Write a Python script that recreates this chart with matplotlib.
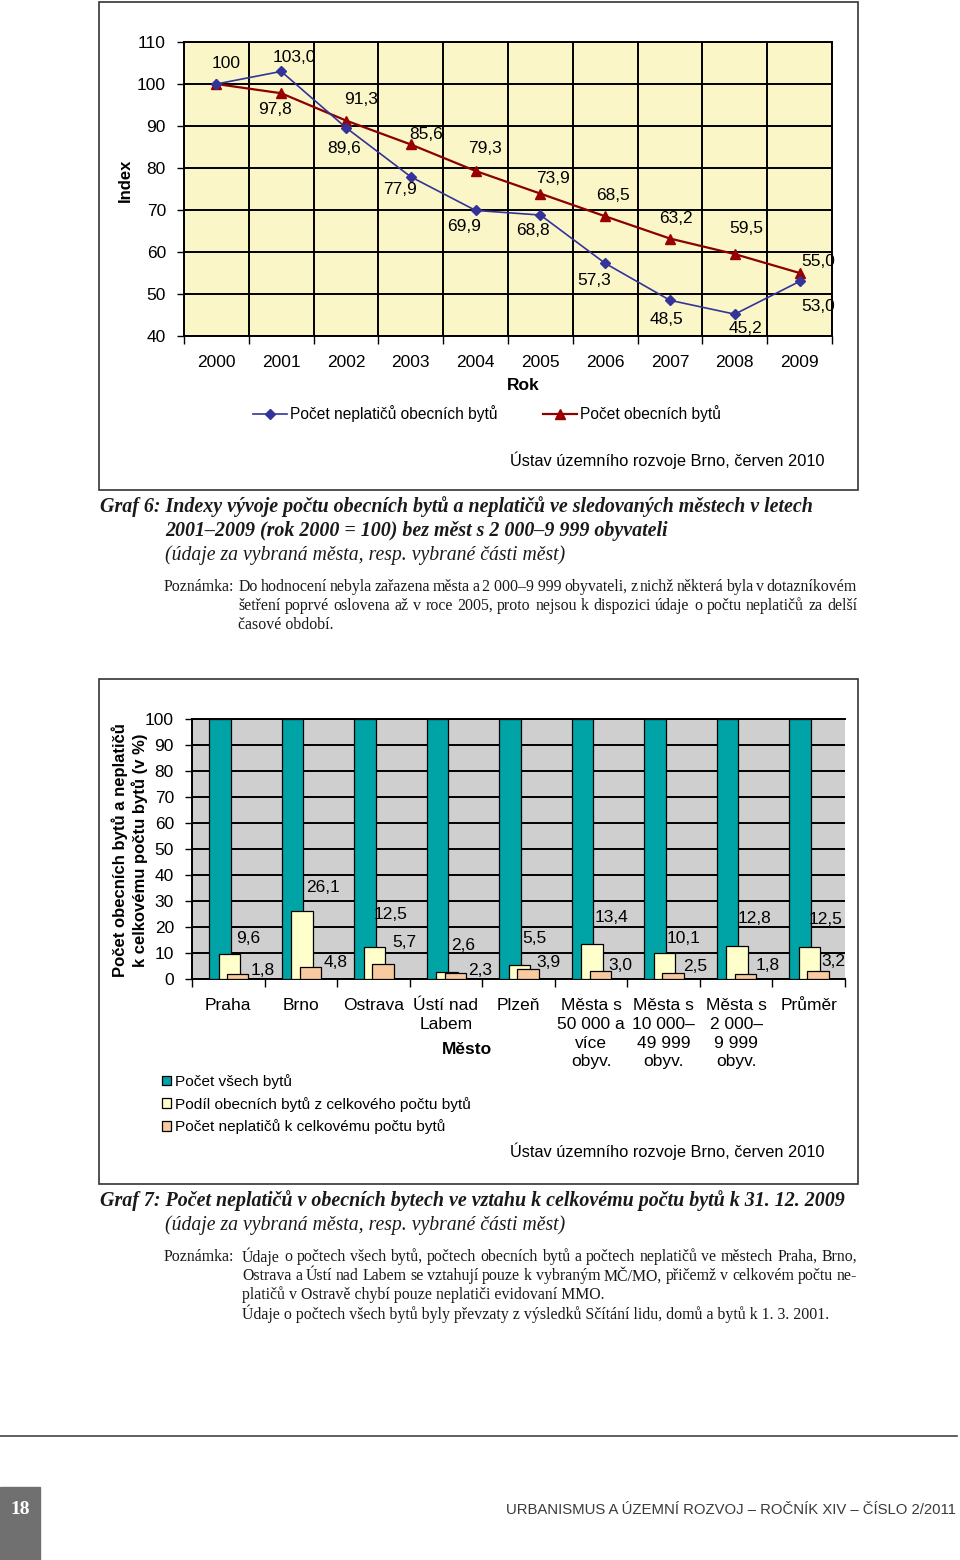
import matplotlib
matplotlib.use('Agg')
import matplotlib.pyplot as plt
from matplotlib.patches import Rectangle
from matplotlib.lines import Line2D
import numpy as np

W, H = 960, 1560

# ---------------- data ----------------
years = ['2000', '2001', '2002', '2003', '2004', '2005', '2006', '2007', '2008', '2009']
neplatici_index = [100, 103.0, 89.6, 77.9, 69.9, 68.8, 57.3, 48.5, 45.2, 53.0]
obecni_byty_index = [100, 97.8, 91.3, 85.6, 79.3, 73.9, 68.5, 63.2, 59.5, 55.0]

mesta = ['Praha', 'Brno', 'Ostrava', 'Ústí nad\nLabem', 'Plzeň',
         'Města s\n50 000 a\nvíce\nobyv.', 'Města s\n10 000–\n49 999\nobyv.',
         'Města s\n2 000–\n9 999\nobyv.', 'Průměr']
vsechny_byty = [100, 100, 100, 100, 100, 100, 100, 100, 100]
podil_obecnich = [9.6, 26.1, 12.5, 2.6, 5.5, 13.4, 10.1, 12.8, 12.5]
podil_neplaticu = [1.8, 4.8, 5.7, 2.3, 3.9, 3.0, 2.5, 1.8, 3.2]

# ---------------- fonts ----------------
SANS = 'Liberation Sans'
SERIF = 'Liberation Serif'
plt.rcParams['font.family'] = [SANS, 'DejaVu Sans']

fig = plt.figure(figsize=(W / 100, H / 100), dpi=100)
fig.patch.set_facecolor('white')


def fx(x):
    return x / W


def fy(y):
    return 1 - y / H


def ftext(x, y, s, **kw):
    return fig.text(fx(x), fy(y), s, **kw)


def fmt(v):
    return f'{v:.1f}'.replace('.', ',')


# ---------------- boxes ----------------
for (x0, y0, x1, y1) in [(99, 2, 858, 490), (99, 679, 858, 1184)]:
    fig.add_artist(Rectangle((fx(x0), fy(y1)), fx(x1) - fx(x0), (y1 - y0) / H,
                             fill=False, ec='#333333', lw=1.2, transform=fig.transFigure))

# ---------------- chart 1 ----------------
ax1 = fig.add_axes([fx(184), fy(336), (832 - 184) / W, (336 - 42) / H])
ax1.set_facecolor('#FBF6C8')
ax1.set_xlim(-0.5, 9.5)
ax1.set_ylim(40, 110)
ax1.set_yticks(range(40, 111, 10))
ax1.set_xticks(range(len(years)))
ax1.set_xticklabels(years)
ax1.set_xticks(np.arange(-0.5, len(years), 1), minor=True)
ax1.tick_params(axis='x', which='major', length=0, pad=14, labelsize=12.5)
ax1.tick_params(axis='x', which='minor', length=6, direction='out', width=1)
ax1.tick_params(axis='y', length=5, width=1, pad=8, labelsize=12.5)
ax1.grid(axis='y', which='major', color='black', lw=1.4)
ax1.grid(axis='x', which='minor', color='black', lw=1.4)
ax1.set_axisbelow(True)
for s in ax1.spines.values():
    s.set_color('black')
    s.set_linewidth(1.4)

xi = np.arange(len(years))
ax1.plot(xi, neplatici_index, color='#333399', lw=1.2, marker='D', ms=5.5,
         mfc='#333399', mec='#333399', label='Počet neplatičů obecních bytů', zorder=4)
ax1.plot(xi, obecni_byty_index, color='#8B0000', lw=1.6, marker='^', ms=7.5,
         mfc='#990000', mec='#990000', label='Počet obecních bytů', zorder=3)

blue_off = [(10, 21), (13, 14), (-2, -21), (-11, -13), (-12, -16), (-7, -15),
            (-11, -17), (-4, -19), (11, -14), (19, -25)]
red_off = [None, (-6, -16), (15, 21), (15, 10), (9, 22), (13, 15), (8, 21),
           (6, 20), (11, 26), (19, 11)]
for i, v in enumerate(neplatici_index):
    s = '100' if i == 0 else fmt(v)
    ax1.annotate(s, (i, v), xytext=blue_off[i], textcoords='offset pixels',
                 ha='center', va='center', fontsize=12.5, zorder=6)
for i, v in enumerate(obecni_byty_index):
    if red_off[i] is None:
        continue
    ax1.annotate(fmt(v), (i, v), xytext=red_off[i], textcoords='offset pixels',
                 ha='center', va='center', fontsize=12.5, zorder=6)

ftext(523, 385, 'Rok', ha='center', va='center', fontsize=12.5, fontweight='bold')
ftext(125, 180, 'Index', ha='center', va='center', rotation=90, fontsize=12,
      fontweight='bold')
ax1.legend(loc='center', bbox_to_anchor=(fx(487), fy(414)), bbox_transform=fig.transFigure,
           ncol=2, frameon=False, handlelength=2.2, columnspacing=2.9,
           handletextpad=0.2, fontsize=11.2)
ftext(824, 460, 'Ústav územního rozvoje Brno, červen 2010', ha='right', va='center',
      fontsize=11.8)

# ---------------- chart 2 ----------------
ax2 = fig.add_axes([fx(192), fy(979), (845 - 192) / W, (979 - 719) / H])
ax2.set_facecolor('#CFCFCF')
xc = np.arange(len(mesta))
ax2.bar(xc - 0.117, vsechny_byty, 0.296, color='#00A3A6', ec='black', lw=0.9,
        zorder=3, label='Počet všech bytů')
ax2.bar(xc + 0.014, podil_obecnich, 0.296, color='#FFFFCC', ec='black', lw=0.9,
        zorder=4, label='Podíl obecních bytů z celkového počtu bytů')
ax2.bar(xc + 0.13, podil_neplaticu, 0.296, color='#F9C9A0', ec='black', lw=0.9,
        zorder=5, label='Počet neplatičů k celkovému počtu bytů')
ax2.set_xlim(-0.5, len(mesta) - 0.5)
ax2.set_ylim(0, 100)
ax2.set_yticks(range(0, 101, 10))
ax2.set_xticks(xc)
ax2.set_xticklabels(mesta, linespacing=1.3)
ax2.set_xticks(np.arange(-0.5, len(mesta), 1), minor=True)
ax2.tick_params(axis='x', which='major', length=0, pad=14, labelsize=12.5)
ax2.tick_params(axis='x', which='minor', length=6, direction='out', width=1)
ax2.tick_params(axis='y', length=5, width=1, pad=8, labelsize=12.5)
ax2.grid(axis='y', color='black', lw=1.4, zorder=1)
ax2.set_axisbelow(True)
ax2.spines['right'].set_visible(False)
for k in ['left', 'bottom', 'top']:
    ax2.spines[k].set_color('black')
    ax2.spines[k].set_linewidth(1.4)

cream_off = [(19, 16), (21, 24), (16, 32), (16, 27), (15, 26), (19, 27), (19, 14), (17, 27), (16, 27)]
salmon_off = [(25, 4), (25, 4), (22, 22), (25, 3), (20, 6), (20, 6), (22, 6), (22, 9), (15, 9)]
for i, v in enumerate(podil_obecnich):
    ax2.annotate(fmt(v), (i + 0.014, v), xytext=cream_off[i], textcoords='offset pixels',
                 ha='center', va='center', fontsize=12.5, zorder=7, annotation_clip=False)
for i, v in enumerate(podil_neplaticu):
    ax2.annotate(fmt(v), (i + 0.13, v), xytext=salmon_off[i], textcoords='offset pixels',
                 ha='center', va='center', fontsize=12.5, zorder=7, annotation_clip=False)

ftext(467, 1050, 'Město', ha='center', va='center', fontsize=12.5, fontweight='bold')
ftext(120, 850, 'Počet obecních bytů a neplatičů', ha='center', va='center', rotation=90,
      fontsize=12, fontweight='bold')
ftext(140, 850, 'k celkovému počtu bytů (v %)', ha='center', va='center', rotation=90,
      fontsize=12, fontweight='bold')
ax2.legend(loc='upper left', bbox_to_anchor=(fx(148), fy(1060)), bbox_transform=fig.transFigure,
           frameon=False, handlelength=0.6, handleheight=0.6, handletextpad=0.25,
           labelspacing=0.5, fontsize=11.1)
ftext(824, 1151, 'Ústav územního rozvoje Brno, červen 2010', ha='right', va='center',
      fontsize=11.8)

# ---------------- captions ----------------
renderer = fig.canvas.get_renderer()


def justify(line, x0, x1, y, **kw):
    words = line.split(' ')
    texts = [ftext(0, y, w, ha='left', va='center', **kw) for w in words]
    widths = [t.get_window_extent(renderer).width for t in texts]
    gap = ((x1 - x0) - sum(widths)) / max(len(words) - 1, 1)
    pos = x0
    for t, w in zip(texts, widths):
        t.set_x(fx(pos))
        pos += w + gap


cap_kw = dict(family=SERIF, fontsize=14.4, fontweight='bold', style='italic', color='#1a1a1a')
it_kw = dict(family=SERIF, fontsize=14.2, style='italic', color='#1a1a1a')
note_kw = dict(family=SERIF, fontsize=11.4, color='#1a1a1a')
NB = '\u00a0'

ftext(100, 507, 'Graf 6: Indexy vývoje počtu obecních bytů a neplatičů ve sledovaných městech v letech',
      ha='left', va='center', **cap_kw)
ftext(165, 531, f'2001–2009 (rok 2000 = 100) bez měst s 2{NB}000–9{NB}999 obyvateli',
      ha='left', va='center', **cap_kw)
ftext(165, 555, '(údaje za vybraná města, resp. vybrané části měst)', ha='left', va='center', **it_kw)
ftext(164, 587, 'Poznámka:', ha='left', va='center', **note_kw)
justify(f'Do hodnocení nebyla zařazena města a 2{NB}000–9{NB}999 obyvateli, z nichž některá byla v dotazníkovém',
        239, 857, 587, **note_kw)
justify('šetření poprvé oslovena až v roce 2005, proto nejsou k dispozici údaje o počtu neplatičů za delší',
        238, 857, 606, **note_kw)
ftext(238, 625, 'časové období.', ha='left', va='center', **note_kw)

ftext(100, 1201, 'Graf 7: Počet neplatičů v obecních bytech ve vztahu k celkovému počtu bytů k 31. 12. 2009',
      ha='left', va='center', **cap_kw)
ftext(165, 1225, '(údaje za vybraná města, resp. vybrané části měst)', ha='left', va='center', **it_kw)
ftext(164, 1257, 'Poznámka:', ha='left', va='center', **note_kw)
justify('Údaje o počtech všech bytů, počtech obecních bytů a počtech neplatičů ve městech Praha, Brno,',
        242, 857, 1257, **note_kw)
justify('Ostrava a Ústí nad Labem se vztahují pouze k vybraným MČ/MO, přičemž v celkovém počtu ne-',
        242, 857, 1276, **note_kw)
ftext(242, 1295, 'platičů v Ostravě chybí pouze neplatiči evidovaní MMO.', ha='left', va='center', **note_kw)
ftext(242, 1314, 'Údaje o počtech všech bytů byly převzaty z výsledků Sčítání lidu, domů a bytů k 1. 3. 2001.',
      ha='left', va='center', **note_kw)

# ---------------- footer ----------------
fig.add_artist(Line2D([0, fx(957)], [fy(1436), fy(1436)], color='#444444', lw=1.2,
                      transform=fig.transFigure))
fig.add_artist(Rectangle((0, 0), fx(40), (1560 - 1487) / H, color='#707070',
                         transform=fig.transFigure))
ftext(20, 1510, '18', ha='center', va='center', color='white', fontsize=14,
      fontweight='bold', family=SERIF)
ftext(956, 1510, 'URBANISMUS A ÚZEMNÍ ROZVOJ – ROČNÍK XIV – ČÍSLO 2/2011', ha='right',
      va='center', fontsize=10.7, color='#3a3a3a')

fig.savefig('out.png', dpi=100)
